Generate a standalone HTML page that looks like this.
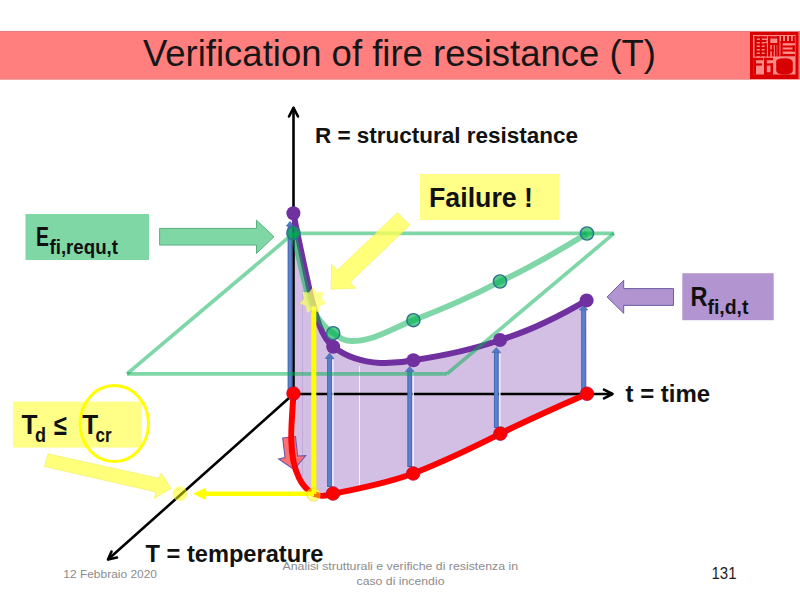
<!DOCTYPE html>
<html><head><meta charset="utf-8">
<style>
html,body{margin:0;padding:0;background:#fff;width:800px;height:600px;overflow:hidden;}
svg{position:absolute;left:0;top:0;}
text{font-family:"Liberation Sans",sans-serif;}
.b{font-weight:bold;fill:#111;}
</style></head><body>
<svg width="800" height="600" viewBox="0 0 800 600">
  <rect x="0" y="30.9" width="800" height="48.7" fill="#FF7F7F"/>
  <rect x="0" y="31" width="800" height="1" fill="#DA8080" fill-opacity="0.8"/>
  <rect x="0" y="78.5" width="800" height="1" fill="#E08585" fill-opacity="0.6"/>
  <text x="143" y="66" font-size="36" fill="#161616" textLength="513" lengthAdjust="spacingAndGlyphs">Verification of fire resistance (T)</text>
  <!-- seal -->
  <g>
    <rect x="750" y="32" width="48.5" height="47" fill="#D80000"/>
    <rect x="753" y="35" width="42.5" height="39.5" fill="#FF8A8A"/>
    <g fill="#D80000">
      <rect x="754.5" y="36.3" width="12.5" height="2.2"/><rect x="755" y="40" width="11.5" height="2"/><rect x="755" y="43.5" width="11.5" height="2"/><rect x="755" y="47" width="11.5" height="2"/><rect x="755" y="50.5" width="11.5" height="2"/><rect x="755" y="54" width="11.5" height="2.2"/>
      <rect x="754.5" y="36" width="2.3" height="20.5"/><rect x="759.8" y="36" width="2" height="20.5"/><rect x="764.6" y="43" width="2.2" height="13.5"/>
      <rect x="768" y="36.3" width="11" height="2.2"/><rect x="768" y="43" width="11" height="2"/><rect x="768" y="49.5" width="6" height="1.8"/>
      <rect x="768" y="36" width="2.3" height="20.5"/><rect x="771.8" y="43" width="1.9" height="13.5"/><rect x="774.8" y="43" width="1.9" height="13.5"/><rect x="777.3" y="36" width="2.2" height="20.5"/>
      <rect x="781" y="36" width="2" height="6"/><rect x="785" y="36" width="2" height="6"/><rect x="789" y="36" width="2" height="6"/><rect x="792.8" y="36" width="2" height="6"/>
      <rect x="780.5" y="41" width="14.5" height="2.2"/><rect x="782.5" y="45.5" width="12.5" height="2"/><rect x="782.5" y="49.5" width="12.5" height="2"/><rect x="780.5" y="54" width="14.5" height="2.3"/><rect x="780.5" y="41" width="2.2" height="15"/><rect x="792.5" y="45.5" width="2.3" height="6"/>
      <rect x="753.2" y="57.8" width="10" height="2.4"/><rect x="753.2" y="57.8" width="2.8" height="17"/><rect x="755" y="63.4" width="7" height="2.2"/>
      <rect x="764" y="57.8" width="9" height="2.4"/><rect x="764" y="57.8" width="2.8" height="17"/><rect x="764" y="63.4" width="9" height="2.2"/><rect x="770.5" y="63.4" width="2.6" height="11"/><rect x="764" y="72.2" width="9" height="2.5"/>
      <path d="M776.2 61 Q777 58 784.5 58.2 Q792 58 792.8 62 L792.8 71 Q792 74.5 784.5 74.4 Q777 74.5 776.2 71 Z"/>
    </g>
  </g>

  <!-- purple fill -->
  <path d="M293.4 213 C297 232 304 265 310 292 C316 318 322 338 333.2 346.7 C345 356 360 362 380 363 C395 363.5 405 362 413.4 360.2 C445 355.5 470 350.5 500 340 C530 331 560 316 586.6 300.4 L587 393.75 L500.4 433.6 L413.2 473.5 L333 493.5 C327 495 304 488 299 478 C295 465 294.5 430 294.5 393 Z" fill="#D3BFE3"/>
  <line x1="302.5" y1="290" x2="302.5" y2="480" stroke="#C4A8DC" stroke-width="1"/>
  <line x1="359.5" y1="366" x2="359.5" y2="490" stroke="#FFFFFF" stroke-width="1" stroke-opacity="0.8"/>

  <!-- axes -->
  <g stroke="#000" fill="none" stroke-width="2.6" stroke-linecap="round" stroke-linejoin="round">
    <line x1="293.5" y1="108" x2="293.5" y2="393.75"/>
    <path d="M289 116.5 L293.5 107.8 L298 116.5"/>
    <line x1="293" y1="394" x2="612" y2="394"/>
    <path d="M604 389.6 L612.5 394 L604 398.4"/>
    <line x1="293.5" y1="394" x2="108.5" y2="559"/>
    <path d="M111.5 551.5 L108 559.5 L117 557.5"/>
  </g>

  <!-- blue arrows -->
  <g stroke="#4468B0" stroke-width="4.8" fill="none">
    <line x1="290" y1="226" x2="290" y2="393"/>
    <line x1="329.5" y1="358" x2="329.5" y2="487"/>
    <line x1="409.7" y1="371" x2="409.7" y2="467"/>
    <line x1="496.3" y1="352" x2="496.3" y2="428"/>
    <line x1="583.5" y1="310" x2="583.5" y2="393"/>
  </g>
  <g stroke="#5A82D0" stroke-width="2.8" fill="none">
    <line x1="290" y1="226" x2="290" y2="393"/>
    <line x1="329.5" y1="358" x2="329.5" y2="486"/>
    <line x1="409.7" y1="371" x2="409.7" y2="466"/>
    <line x1="496.3" y1="352" x2="496.3" y2="427"/>
    <line x1="583.5" y1="310" x2="583.5" y2="392"/>
  </g>
  <g stroke="#F0F0FF" stroke-width="1.6" stroke-opacity="0.9">
    <line x1="333" y1="360" x2="333" y2="486"/>
    <line x1="413.2" y1="372" x2="413.2" y2="466"/>
    <line x1="499.8" y1="354" x2="499.8" y2="427"/>
  </g>
  <g fill="#5078C4" stroke="#4468B0" stroke-width="0.6">
    <path d="M286.3 226 L290 221.3 L293.7 226 Z"/>
    <path d="M325.2 358.5 L329.6 353 L334 358.5 Z"/>
    <path d="M405.3 371.5 L409.7 366.5 L414.1 371.5 Z"/>
    <path d="M491.9 352.5 L496.3 347.5 L500.7 352.5 Z"/>
    <path d="M579.2 310 L583.5 305.5 L587.8 310 Z"/>
  </g>

  <!-- red down arrow -->
  <path d="M282.7 438 L295.5 436.5 L297.7 456 L305.7 455.7 L294 469.5 L278.7 459 L285 457.5 Z" fill="#FF7070" stroke="#6A5AA8" stroke-width="1.1"/>

  <!-- curves -->
  <path d="M293.4 213 C297 232 304 265 310 292 C316 318 322 338 333.2 346.7 C345 356 360 362 380 363 C395 363.5 405 362 413.4 360.2 C445 355.5 470 350.5 500 340 C530 331 560 316 586.6 300.4" fill="none" stroke="#7030A0" stroke-width="6"/>
  <!-- green plane -->
  <g stroke="#00B050" stroke-opacity="0.5" stroke-width="3.7" stroke-linecap="butt">
    <line x1="293.4" y1="233.4" x2="614" y2="233.4"/>
    <line x1="614" y1="233.4" x2="447" y2="373.8"/>
    <line x1="447" y1="373.8" x2="127" y2="373.8"/>
    <line x1="127" y1="373.8" x2="293.4" y2="233.4"/>
  </g>

  <path d="M293.4 233 C297 250 302 272 307 292 C311 308 318 323 333.2 333.2 C340 338 344 341 352 341 C374 341 393 328 413.4 320.2 C440 310 470 297.5 500 281.5 C530 268 560 250 587 233.5" fill="none" stroke="#00B050" stroke-width="5.8" stroke-opacity="0.5"/>
  <path d="M293.5 393.5 C292.5 410 291 425 291.3 440 C291.6 455 294 468 299 478 C304 488 312 495 322 495.8 C327 496 330 495 333 494 C360 488 385 484 413.2 473.5 C440 463 470 449 500.4 433.6 C530 419 560 406 587 393.75" fill="none" stroke="#FF0000" stroke-width="6"/>

  <!-- dots -->
  <g fill="#7030A0">
    <circle cx="293.4" cy="213.2" r="7"/>
    <circle cx="333.2" cy="346.7" r="7"/>
    <circle cx="413.4" cy="360.2" r="7"/>
    <circle cx="500" cy="340" r="7"/>
    <circle cx="586.6" cy="300.4" r="7"/>
  </g>
  <g fill="#00B050" fill-opacity="0.65" stroke="#2E6E8E" stroke-width="1.4">
    <circle cx="293.4" cy="233" r="6.6"/>
    <circle cx="333.2" cy="333.2" r="6.6"/>
    <circle cx="413.4" cy="320.2" r="6.6"/>
    <circle cx="500" cy="281.5" r="6.6"/>
    <circle cx="587" cy="233.5" r="6.6"/>
  </g>
  <g fill="#FF0000" stroke="#B01040" stroke-width="0.8">
    <circle cx="293.5" cy="393.5" r="6.8"/>
    <circle cx="333" cy="493.5" r="6.8"/>
    <circle cx="413.2" cy="473.5" r="6.8"/>
    <circle cx="500.4" cy="433.6" r="6.8"/>
    <circle cx="587" cy="393.75" r="6.8"/>
  </g>

  <!-- yellow lines -->
  <line x1="313.8" y1="306.5" x2="313.8" y2="494" stroke="#FFFF00" stroke-width="5"/>
  <line x1="200" y1="493.8" x2="314" y2="493.8" stroke="#FFFF00" stroke-width="4.4"/>
  <path d="M205.5 488.5 L194.5 493.8 L205.5 499.2 Z" fill="#FFFF00" stroke="#FFFF00" stroke-width="1.2" stroke-linejoin="round"/>
  <circle cx="179.9" cy="493.8" r="7" fill="#FFFF00" fill-opacity="0.5" stroke="#FFFF60" stroke-opacity="0.5" stroke-width="1"/>
  <circle cx="313.5" cy="494.5" r="6.6" fill="#FFFF00" fill-opacity="0.45" stroke="#F0D040" stroke-width="1" stroke-opacity="0.7"/>

  <!-- star -->
  <polygon id="star" points="313.0,287.0 316.9,292.4 323.6,292.1 321.8,298.5 326.2,303.5 320.0,306.1 318.9,312.7 313.0,309.5 307.1,312.7 306.0,306.1 299.8,303.5 304.2,298.5 302.4,292.1 309.1,292.4" fill="#FFFF66" opacity="0.75"/>

  <!-- big yellow arrow -->
  <path d="M397.5 212.5 L410 225 L350 282.5 L356 288.3 L331 289.2 L331.7 264.2 L337.5 270 Z" fill="#FFFF55" fill-opacity="0.78" stroke="#EAEA50" stroke-opacity="0.6" stroke-width="0.8"/>
  <!-- Td arrow -->
  <path d="M48 453.8 L158.6 478.2 L161.3 473 L171.3 488.4 L154.3 498.4 L155.8 492 L44.4 466.6 Z" fill="#FFFF55" fill-opacity="0.78" stroke="#EAEA50" stroke-opacity="0.6" stroke-width="0.8"/>

  <!-- E arrow -->
  <path d="M159.6 228.4 L256.5 228.4 L256.5 220.2 L274 236.7 L256.5 253.4 L256.5 245 L159.6 245 Z" fill="#80D7A6" stroke="#58B07E" stroke-width="1"/>
  <!-- R arrow -->
  <path d="M673.5 288.6 L623.7 288.6 L623.7 280.3 L607.1 297 L623.7 313.3 L623.7 305.4 L673.5 305.4 Z" fill="#B294D1" stroke="#5E5298" stroke-width="0.9"/>

  <!-- boxes -->
  <rect x="25.5" y="214" width="123.5" height="46" fill="#80D7A6"/>
  <rect x="420" y="174" width="139.6" height="46" fill="#FFFF88"/>
  <rect x="682.3" y="273.2" width="91.4" height="47" fill="#B294D1"/>
  <rect x="12.9" y="401.6" width="129" height="46" fill="#FFFF88"/>
  <ellipse cx="114.3" cy="423.6" rx="34.2" ry="38" fill="none" stroke="#FFFF00" stroke-width="3"/>

  <!-- texts -->
  <text class="b" x="36" y="246.3" font-size="28" textLength="13" lengthAdjust="spacingAndGlyphs">E</text>
  <text class="b" x="49.5" y="254" font-size="20" textLength="68.5" lengthAdjust="spacingAndGlyphs">fi,requ,t</text>
  <text class="b" x="429" y="207.4" font-size="28" textLength="104" lengthAdjust="spacingAndGlyphs">Failure !</text>
  <text class="b" x="690.5" y="306.2" font-size="27.5" textLength="17" lengthAdjust="spacingAndGlyphs">R</text>
  <text class="b" x="707.5" y="313.7" font-size="20" textLength="41" lengthAdjust="spacingAndGlyphs">fi,d,t</text>
  <text class="b" x="21.5" y="433.5" font-size="27" textLength="16" lengthAdjust="spacingAndGlyphs">T</text>
  <text class="b" x="35" y="441.5" font-size="20" textLength="11" lengthAdjust="spacingAndGlyphs">d</text>
  <text class="b" x="54" y="434.6" font-size="29" textLength="13" lengthAdjust="spacingAndGlyphs">≤</text>
  <text class="b" x="82.2" y="433.5" font-size="27" textLength="16" lengthAdjust="spacingAndGlyphs">T</text>
  <text class="b" x="95.5" y="441.5" font-size="20" textLength="16" lengthAdjust="spacingAndGlyphs">cr</text>

  <text class="b" x="315" y="142.5" font-size="22" textLength="263" lengthAdjust="spacingAndGlyphs">R = structural resistance</text>
  <text class="b" x="625.5" y="401.8" font-size="23" textLength="84.5" lengthAdjust="spacingAndGlyphs">t = time</text>
  <text class="b" x="145.5" y="562" font-size="23" textLength="178" lengthAdjust="spacingAndGlyphs">T = temperature</text>

  <text x="63.3" y="577.7" font-size="11" fill="#8C8C8C" textLength="93.7" lengthAdjust="spacingAndGlyphs">12 Febbraio 2020</text>
  <text x="282.5" y="569.5" font-size="11" fill="#8C8C8C" textLength="235.5" lengthAdjust="spacingAndGlyphs">Analisi strutturali e verifiche di resistenza in</text>
  <text x="356.5" y="585" font-size="11" fill="#8C8C8C" textLength="88" lengthAdjust="spacingAndGlyphs">caso di incendio</text>
  <text x="711.5" y="578.8" font-size="16" fill="#222" textLength="25" lengthAdjust="spacingAndGlyphs">131</text>
</svg>
</body></html>
